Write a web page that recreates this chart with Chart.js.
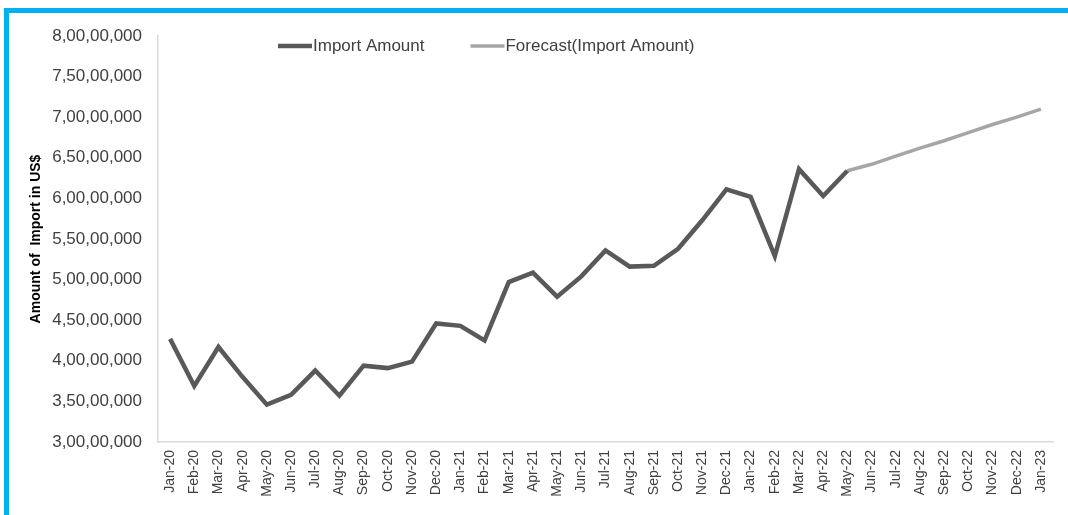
<!DOCTYPE html>
<html>
<head>
<meta charset="utf-8">
<script src="https://cdn.jsdelivr.net/npm/chart.js@4"></script>
<style>
  html, body { margin: 0; padding: 0; background: #fff; }
  .frame {
    position: absolute; left: 4px; top: 8px; width: 1064px; height: 507px;
    border-top: 5px solid #00b0f0; border-left: 5px solid #00b0f0;
    box-sizing: border-box; pointer-events: none;
  }
  .graphContainer { position: absolute; left: 0; top: 0; width: 1068px; height: 515px; }
</style>
</head>
<body>
<div class="graphContainer"><canvas id="myChart" width="1068" height="515"></canvas></div>
<div class="frame"></div>
<script>
// months on the x axis
const months = [
  "Jan-20", "Feb-20", "Mar-20", "Apr-20", "May-20", "Jun-20", "Jul-20", "Aug-20", "Sep-20", "Oct-20", "Nov-20", "Dec-20",
  "Jan-21", "Feb-21", "Mar-21", "Apr-21", "May-21", "Jun-21", "Jul-21", "Aug-21", "Sep-21", "Oct-21", "Nov-21", "Dec-21",
  "Jan-22", "Feb-22", "Mar-22", "Apr-22", "May-22", "Jun-22", "Jul-22", "Aug-22", "Sep-22", "Oct-22", "Nov-22", "Dec-22",
  "Jan-23"
];

// actual imports, Jan-20 .. May-22
const importAmount = [
  42700000, 36900000, 41700000, 38000000, 34600000, 35800000, 38800000, 35700000, 39400000, 39100000, 39900000, 44600000,
  44300000, 42500000, 49700000, 50850000, 47900000, 50400000, 53600000, 51600000, 51700000, 53800000, 57300000, 61100000,
  60200000, 52900000, 63600000, 60300000, 63400000
];

// forecast, May-22 .. Jan-23
const forecastAmount = [63400000, 64200000, 65200000, 66200000, 67100000, 68100000, 69100000, 70000000, 71000000];

const yTicks = { min: 30000000, max: 80000000, step: 5000000 };

// pad the series out to the full month list
const actualData = months.map((m, i) => i < importAmount.length ? importAmount[i] : null);
const forecastStart = months.length - forecastAmount.length;
const forecastData = months.map((m, i) => i >= forecastStart ? forecastAmount[i - forecastStart] : null);

// 80000000 -> 8,00,00,000
function indianFormat(v) {
  const s = String(Math.round(v));
  if (s.length <= 3) return s;
  let rest = s.slice(0, -3);
  const last = s.slice(-3);
  const parts = [];
  while (rest.length > 2) {
    parts.unshift(rest.slice(-2));
    rest = rest.slice(0, -2);
  }
  if (rest) parts.unshift(rest);
  return parts.join(",") + "," + last;
}

const textColor = "#404040";
const fontFamily = "'Liberation Sans', Arial, sans-serif";

// legend drawn inside the plot, at the top
const insideLegend = {
  id: "insideLegend",
  afterDraw(chart) {
    const ctx = chart.ctx;
    ctx.save();
    ctx.font = "17px " + fontFamily;
    ctx.textBaseline = "middle";
    ctx.textAlign = "left";
    let x = 278;
    const y = 46;
    chart.data.datasets.forEach(ds => {
      ctx.strokeStyle = ds.borderColor;
      ctx.lineWidth = ds.borderWidth;
      ctx.beginPath();
      ctx.moveTo(x, y);
      ctx.lineTo(x + 34, y);
      ctx.stroke();
      ctx.fillStyle = textColor;
      ctx.fillText(ds.label, x + 35, y);
      x += 35 + ctx.measureText(ds.label).width + 46;
    });
    ctx.restore();
  }
};

const ctx = document.getElementById("myChart").getContext("2d");
new Chart(ctx, {
  type: "line",
  data: {
    labels: months,
    datasets: [
      {
        label: "Import Amount",
        data: actualData,
        borderColor: "#595959",
        backgroundColor: "#595959",
        borderWidth: 4.5,
        pointRadius: 0,
        tension: 0
      },
      {
        label: "Forecast(Import Amount)",
        data: forecastData,
        borderColor: "#a6a6a6",
        backgroundColor: "#a6a6a6",
        borderWidth: 3.5,
        pointRadius: 0,
        tension: 0
      }
    ]
  },
  options: {
    responsive: false,
    animation: false,
    layout: { padding: { left: 24, top: 36, right: 15, bottom: 0 } },
    plugins: {
      legend: { display: false },
      tooltip: { enabled: false }
    },
    scales: {
      x: {
        offset: true,
        grid: { display: false, drawTicks: false },
        border: { color: "#d9d9d9", width: 1.5 },
        ticks: {
          autoSkip: false,
          minRotation: 90,
          maxRotation: 90,
          padding: 8,
          color: textColor,
          font: { family: fontFamily, size: 14 }
        },
        afterFit(scale) { scale.height = 73; }
      },
      y: {
        min: yTicks.min,
        max: yTicks.max,
        grid: { display: false, drawTicks: false },
        border: { color: "#d9d9d9", width: 1.5 },
        ticks: {
          stepSize: yTicks.step,
          padding: 16,
          color: textColor,
          font: { family: fontFamily, size: 17 },
          callback: v => indianFormat(v)
        },
        title: {
          display: true,
          text: "Amount of  Import in US$",
          color: "#000",
          font: { family: fontFamily, size: 14, weight: "bold" }
        },
        afterFit(scale) { scale.width = 134; }
      }
    }
  },
  plugins: [insideLegend]
});
</script>
</body>
</html>
